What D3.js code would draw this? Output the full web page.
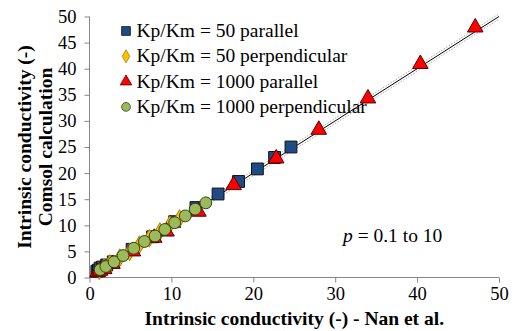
<!DOCTYPE html>
<html><head><meta charset="utf-8">
<script src="https://cdn.jsdelivr.net/npm/d3@7"></script>
<style>body{margin:0;background:#fff}svg{display:block}</style>
</head><body><div id="chart"></div>
<script>
// ---- data ----
const xTicks = [0,10,20,30,40,50];
const yTicks = [0,5,10,15,20,25,30,35,40,45,50];
const seriesNames = ["Kp/Km = 50 parallel","Kp/Km = 50 perpendicular","Kp/Km = 1000 parallel","Kp/Km = 1000 perpendicular"];
const s50parX  = [0.9,1.1,1.3,1.6,2.1,2.9,5.2,7.7,10.4,13.0,15.7,18.2,20.5,22.6,24.6];
const s50parY  = [1.2,1.4,1.8,2.0,2.4,3.0,5.4,7.8,10.7,13.4,16.0,18.4,20.8,23.0,25.0];
const s50perX  = [1.2,1.8,2.5,3.7,4.9,6.1,7.3,8.6,9.8,11.0];
const s50perY  = [1.3,1.9,2.7,3.8,4.9,6.3,7.5,8.8,10.1,11.3];
const s1000parX = [1.0,1.3,1.8,2.8,5.3,7.9,9.4,13.3,17.6,22.8,28.0,34.0,40.4,47.1];
const s1000parY = [1.0,1.3,1.6,2.6,5.0,7.6,8.8,12.6,17.7,22.8,28.3,34.3,40.9,47.9];
const s1000perX = [1.3,2.0,3.0,4.1,5.4,6.7,8.0,9.2,10.4,11.7,12.9,14.2];
const s1000perY = [1.5,2.1,3.0,4.2,5.6,6.9,7.95,9.2,10.5,11.8,13.1,14.3];
const refLine = [0,50];
const bandOffset = 0.5;

// ---- layout ----
const FONT = "'Liberation Serif', 'Times New Roman', serif";
const W=513,H=331;
const svg=d3.select("#chart").append("svg").attr("width",W).attr("height",H)
  .style("font-family",FONT);
const x=d3.scaleLinear().domain([0,50]).range([89.5,499]);
const y=d3.scaleLinear().domain([0,50]).range([277.5,16.5]);

svg.append("clipPath").attr("id","clip").append("rect")
  .attr("x",89.5).attr("y",10).attr("width",415).attr("height",268);

const xa=svg.append("g").attr("transform","translate(0,277.5)")
  .call(d3.axisBottom(x).tickValues(xTicks).tickSize(5).tickPadding(4).tickFormat(d3.format("d")));
const ya=svg.append("g").attr("transform","translate(89.5,0)")
  .call(d3.axisLeft(y).tickValues(yTicks).tickSize(5).tickPadding(8).tickFormat(d3.format("d")));
[xa,ya].forEach(a=>{a.attr("font-family",null).attr("font-size",null);
  a.selectAll("path,line").attr("stroke","#868686").attr("stroke-width",1);
  a.selectAll("text").style("font-family",FONT).style("font-size","18.5px").attr("fill","#000");});
xa.select(".domain").attr("d","M89.5,0H499");
ya.select(".domain").attr("d","M0,277.5V16.5");

// reference lines
const lg=svg.append("g").attr("clip-path","url(#clip)");
const line=d3.line().x(d=>x(d[0])).y(d=>y(d[1]));
[-bandOffset,bandOffset].forEach(o=>{
  lg.append("path").attr("d",line(refLine.map(v=>[v,v+o]))).attr("fill","none")
    .attr("stroke","#9a9a9a").attr("stroke-width",0.9).attr("stroke-dasharray","1.5,1.5");
});
lg.append("path").attr("d",line(refLine.map(v=>[v,v]))).attr("fill","none")
  .attr("stroke","#000").attr("stroke-width",1);

// markers
const styles=[
  {sym:d3.symbolSquare, size:140, fill:"#1F4A85", stroke:"#111"},
  {sym:d3.symbolDiamond, size:90, fill:"#FFC000", stroke:"#b07d00"},
  {sym:d3.symbolTriangle, size:105, fill:"#FF0000", stroke:"#500"},
  {sym:d3.symbolCircle, size:110, fill:"#9BBB59", stroke:"#333f1c"}
];
const data=[[s50parX,s50parY],[s50perX,s50perY],[s1000parX,s1000parY],[s1000perX,s1000perY]];
data.forEach((s,i)=>{
  const st=styles[i];
  const pts=s[0].map((v,j)=>[v,s[1][j]]);
  svg.append("g").selectAll("path").data(pts).join("path")
    .attr("d",d3.symbol().type(st.sym).size(st.size))
    .attr("transform",d=>`translate(${x(d[0])},${y(d[1])})`)
    .attr("fill",st.fill).attr("stroke",st.stroke).attr("stroke-width",1);
});

// legend
const leg=svg.append("g");
seriesNames.forEach((n,i)=>{
  const st=styles[i];
  const cy=31+i*25.3;
  leg.append("path").attr("d",d3.symbol().type(st.sym).size(st.size*0.55)())
    .attr("transform",`translate(126,${cy})`).attr("fill",st.fill).attr("stroke",st.stroke).attr("stroke-width",0.8);
  leg.append("text").attr("x",136.5).attr("y",cy+6).style("font-family",FONT).style("font-size","19.5px").text(n);
});

// annotation
const ann=svg.append("text").attr("x",343).attr("y",242).style("font-family",FONT).style("font-size","19.5px");
ann.append("tspan").style("font-style","italic").text("p");
ann.append("tspan").text(" = 0.1 to 10");

// axis titles
svg.append("text").attr("x",(89.5+499)/2).attr("y",325).attr("text-anchor","middle")
  .style("font-family",FONT).style("font-size","19.5px").style("font-weight","bold").text("Intrinsic conductivity (-) - Nan et al.");
const yt=svg.append("g").attr("transform",`translate(0,147) rotate(-90)`);
yt.append("text").attr("x",0).attr("y",31).attr("text-anchor","middle")
  .style("font-family",FONT).style("font-size","19.5px").style("font-weight","bold").text("Intrinsic conductivity (-)");
yt.append("text").attr("x",0).attr("y",52).attr("text-anchor","middle")
  .style("font-family",FONT).style("font-size","19.5px").style("font-weight","bold").text("Comsol calculation");
</script></body></html>
